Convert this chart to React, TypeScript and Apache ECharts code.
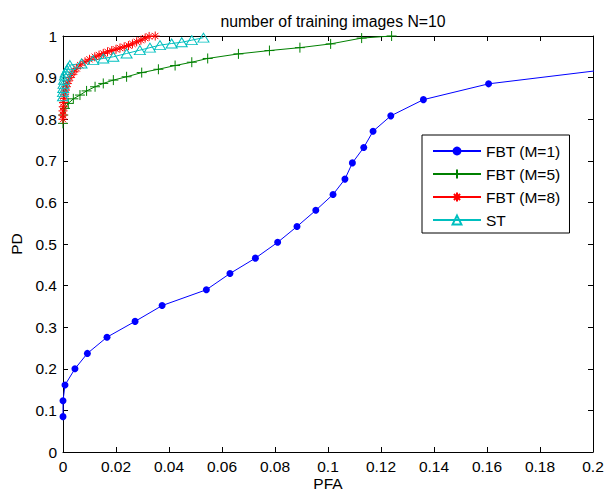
import React, { useEffect, useRef } from "react";
import * as echarts from "echarts";

const xTicksMax = 0.2;
const xInterval = 0.02;
const yInterval = 0.1;

const fbt1X = [0, 0, 0.00075, 0.0045, 0.0092, 0.0166, 0.0272, 0.0374, 0.0541, 0.063, 0.0726, 0.081, 0.0883, 0.0954, 0.1019, 0.1064, 0.1092, 0.1135, 0.117, 0.1237, 0.136, 0.1606, 0.22];
const fbt1Y = [0.085, 0.123, 0.161, 0.2, 0.237, 0.276, 0.314, 0.352, 0.39, 0.429, 0.466, 0.504, 0.542, 0.581, 0.619, 0.656, 0.695, 0.732, 0.771, 0.808, 0.847, 0.885, 0.931];

const fbt5X = [0, 0.0001, 0.00075, 0.002, 0.0039, 0.0064, 0.0089, 0.0121, 0.0152, 0.019, 0.024, 0.0297, 0.036, 0.0423, 0.0486, 0.0546, 0.0662, 0.0779, 0.0894, 0.101, 0.1127, 0.124];
const fbt5Y = [0.79, 0.81, 0.826, 0.838, 0.849, 0.858, 0.868, 0.878, 0.886, 0.894, 0.902, 0.912, 0.92, 0.929, 0.937, 0.946, 0.957, 0.965, 0.972, 0.981, 0.995, 1.0];

const fbt8X = [0, 0, 0, 0.0001, 0.0002, 0.0004, 0.0006, 0.0009, 0.0012, 0.0016, 0.002, 0.0026, 0.0033, 0.0042, 0.0052, 0.0065, 0.0083, 0.01, 0.012, 0.0136, 0.0152, 0.0168, 0.0184, 0.02, 0.0215, 0.0231, 0.0247, 0.0262, 0.0278, 0.0294, 0.031, 0.0325, 0.0348];
const fbt8Y = [0.8, 0.81, 0.82, 0.83, 0.84, 0.85, 0.86, 0.87, 0.878, 0.886, 0.892, 0.9, 0.907, 0.914, 0.922, 0.93, 0.938, 0.944, 0.95, 0.954, 0.958, 0.962, 0.965, 0.968, 0.971, 0.974, 0.977, 0.981, 0.986, 0.99, 0.995, 0.999, 1.0];

const stX = [0, 0, 0.0001, 0.0002, 0.0004, 0.0007, 0.001, 0.0015, 0.002, 0.0026, 0.007, 0.0114, 0.0152, 0.019, 0.024, 0.029, 0.0328, 0.0366, 0.041, 0.0448, 0.0486, 0.053];
const stY = [0.855, 0.865, 0.875, 0.885, 0.895, 0.905, 0.912, 0.918, 0.924, 0.93, 0.934, 0.942, 0.946, 0.95, 0.958, 0.966, 0.972, 0.978, 0.982, 0.985, 0.99, 0.996];

const seriesNames = ["FBT (M=1)", "FBT (M=5)", "FBT (M=8)", "ST"];
const titleText = "number of training images N=10";

const zip = (xs: number[], ys: number[]) => xs.map((x, i) => [x, ys[i]]);

const FONT = 'Arial, "Liberation Sans", sans-serif';
const FS = 15.5;

export default function App() {
  const ref = useRef<HTMLDivElement>(null);
  useEffect(() => {
    document.body.style.margin = "0";
    if (!ref.current) return;
    const chart = echarts.init(ref.current, undefined, { renderer: "svg" });
    const fmt = (v: number) => String(+v.toFixed(2));
    const baseX = {
      type: "value",
      min: 0,
      max: xTicksMax,
      interval: xInterval,
      axisLine: { show: true, onZero: false, lineStyle: { color: "#000", width: 1 } },
      axisTick: { show: true, inside: true, length: 5, lineStyle: { color: "#000" } },
      splitLine: { show: false },
    };
    const baseY = {
      type: "value",
      min: 0,
      max: 1,
      interval: yInterval,
      axisLine: { show: true, onZero: false, lineStyle: { color: "#000", width: 1 } },
      axisTick: { show: true, inside: true, length: 5, lineStyle: { color: "#000" } },
      splitLine: { show: false },
    };
    chart.setOption({
      animation: false,
      backgroundColor: "#fff",
      textStyle: { fontFamily: FONT },
      title: {
        text: titleText,
        left: 328,
        textAlign: "center",
        top: 8,
        textStyle: { fontFamily: FONT, fontSize: 15.8, fontWeight: "normal", color: "#000" },
      },
      grid: { left: 63, right: 14, top: 36, bottom: 40, containLabel: false, outerBoundsMode: "none" },
      legend: {
        orient: "vertical",
        left: 422,
        top: 135,
        width: 149,
        itemWidth: 48,
        itemHeight: 11,
        itemGap: 7,
        padding: [8, 9, 5, 10],
        borderColor: "#000",
        borderWidth: 1,
        backgroundColor: "#fff",
        data: seriesNames,
        textStyle: { fontFamily: FONT, fontSize: FS, color: "#000", padding: [0, 0, 0, 0] },
      },
      xAxis: [
        {
          ...baseX,
          position: "bottom",
          name: "PFA",
          nameLocation: "middle",
          nameGap: 24,
          nameMoveOverlap: false,
          nameTextStyle: { fontFamily: FONT, fontSize: FS, color: "#000", lineHeight: 15 },
          axisLabel: { show: true, margin: 6, color: "#000", fontFamily: FONT, fontSize: FS, lineHeight: 16, formatter: fmt },
        },
        { ...baseX, position: "top", axisLabel: { show: false } },
      ],
      yAxis: [
        {
          ...baseY,
          position: "left",
          name: "PD",
          nameLocation: "middle",
          nameGap: 39,
          nameMoveOverlap: false,
          nameTextStyle: { fontFamily: FONT, fontSize: FS, color: "#000" },
          axisLabel: { show: true, margin: 6, color: "#000", fontFamily: FONT, fontSize: FS, formatter: fmt },
        },
        { ...baseY, position: "right", axisLabel: { show: false } },
      ],
      series: [
        {
          name: seriesNames[0],
          type: "line",
          data: zip(fbt1X, fbt1Y),
          symbol: "circle",
          symbolSize: 7,
          lineStyle: { color: "#0000ff", width: 1 },
          itemStyle: { color: "#0000ff" },
          clip: true,
        },
        {
          name: seriesNames[1],
          type: "line",
          data: zip(fbt5X, fbt5Y),
          symbol: "path://M0,-5L0,5M-5,0L5,0",
          symbolSize: 10,
          lineStyle: { color: "#008000", width: 1 },
          itemStyle: { color: "none", borderColor: "#008000", borderWidth: 1 },
          clip: true,
        },
        {
          name: seriesNames[2],
          type: "line",
          data: zip(fbt8X, fbt8Y),
          symbol: "path://M0,-5L0,5M-5,0L5,0M-3.5,-3.5L3.5,3.5M-3.5,3.5L3.5,-3.5",
          symbolSize: 9,
          lineStyle: { color: "#ff0000", width: 1 },
          itemStyle: { color: "none", borderColor: "#ff0000", borderWidth: 1 },
          clip: true,
        },
        {
          name: seriesNames[3],
          type: "line",
          data: zip(stX, stY),
          symbol: "path://M0,-5L5.5,4L-5.5,4Z",
          symbolSize: [11, 9],
          lineStyle: { color: "#00bfbf", width: 1 },
          itemStyle: { color: "none", borderColor: "#00bfbf", borderWidth: 1 },
          clip: true,
        },
      ],
    });
    return () => chart.dispose();
  }, []);
  return <div ref={ref} style={{ width: 607, height: 492 }} />;
}
